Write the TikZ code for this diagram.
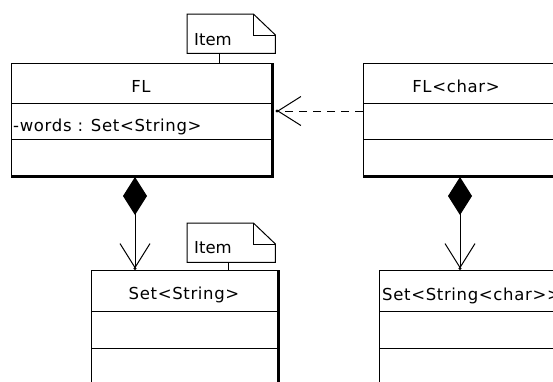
\documentclass[tikz,border=0pt]{standalone}
\usepackage{fontspec}
\setmainfont{DejaVu Sans}[LetterSpace=4,Ligatures=TeXOff]
\newfontfamily\notefont{DejaVu Sans}[Ligatures=TeXOff]
\usetikzlibrary{arrows.meta,calc}

\tikzset{
  classbox/.style={draw, line width=1pt, rectangle, inner sep=0pt, anchor=north west},
  shadowline/.style={line width=2.5pt},
  notebox/.style={rectangle, inner sep=0pt, anchor=north west, minimum width=88pt, minimum height=39pt},
  noteline/.style={line width=1pt, line join=miter},
  label/.style={inner sep=0pt, font=\fontsize{16.5}{18}\selectfont},
  notelabel/.style={inner sep=0pt, anchor=base west, font=\notefont\fontsize{16.5}{18}\selectfont},
  composition/.style={line width=1pt,
    {Diamond[length=38pt,width=24pt,fill=black]}-{Straight Barb[length=24pt,width=30pt,line width=1pt]}},
  dependency/.style={line width=1pt, dash pattern=on 8pt off 6pt,
    -{Straight Barb[length=23pt,width=29pt,line width=1pt]}},
  tipdot/.style={fill=black}
}

\begin{document}
\begin{tikzpicture}[x=1pt,y=-1pt]
\useasboundingbox (0,0) rectangle (553,381);

% ---- class FL ----
\node[classbox, minimum width=260pt, minimum height=112pt] (fl) at (11,63) {};
\draw[line width=1pt] ([yshift=-40pt]fl.north west) -- ([yshift=-40pt]fl.north east);
\draw[line width=1pt] ([yshift=-76pt]fl.north west) -- ([yshift=-76pt]fl.north east);
\draw[shadowline] ([xshift=1pt]fl.north east) -- ([xshift=1pt,yshift=-1pt]fl.south east)
  -- ([yshift=-1pt]fl.south west);
\node[label, anchor=base] (fltitle) at (141,92) {FL};
\node[label, anchor=base west] (flattr) at (13,131) {-words : Set<String>};

% ---- class FL<char> ----
\node[classbox, minimum width=200pt, minimum height=112pt] (flc) at (363,63) {};
\draw[line width=1pt] ([yshift=-40pt]flc.north west) -- ([yshift=-40pt]flc.north east);
\draw[line width=1pt] ([yshift=-76pt]flc.north west) -- ([yshift=-76pt]flc.north east);
\draw[shadowline] ([yshift=-1pt]flc.south west) -- ([yshift=-1pt]flc.south east);
\node[label, anchor=base] (flctitle) at (456,92) {FL<char>};

% ---- class Set<String> ----
\node[classbox, minimum width=186pt, minimum height=130pt] (ss) at (91,270) {};
\draw[line width=1pt] ([yshift=-41pt]ss.north west) -- ([yshift=-41pt]ss.north east);
\draw[line width=1pt] ([yshift=-78pt]ss.north west) -- ([yshift=-78pt]ss.north east);
\draw[shadowline] ([xshift=1pt]ss.north east) -- ([xshift=1pt]ss.south east);
\node[label, anchor=base] (sstitle) at (184,299) {Set<String>};

% ---- class Set<String<char>> ----
\node[classbox, minimum width=200pt, minimum height=130pt] (ssc) at (379,270) {};
\draw[line width=1pt] ([yshift=-41pt]ssc.north west) -- ([yshift=-41pt]ssc.north east);
\draw[line width=1pt] ([yshift=-78pt]ssc.north west) -- ([yshift=-78pt]ssc.north east);
\node[label, anchor=base west] (ssctitle) at (382,300) {Set<String<char>>};

% ---- notes with folded corner ----
\node[notebox] (note1) at (187,14) {};
\node[notebox] (note2) at (187,223) {};
\foreach \n in {note1,note2}{
  \draw[noteline, fill=white] (\n.north west) -- ([xshift=-22pt]\n.north east)
    -- ([yshift=-21pt]\n.north east) -- (\n.south east) -- (\n.south west) -- cycle;
  \draw[noteline] ([xshift=-22pt]\n.north east) |- ([yshift=-21pt]\n.north east);
}
\node[notelabel] (note1text) at (194,45) {Item};
\node[notelabel] (note2text) at (194,253) {Item};

% note anchors
\coordinate (n1a) at ([xshift=32pt]note1.south west);
\coordinate (n2a) at ([xshift=41pt]note2.south west);
\draw[line width=1pt] (n1a) -- (n1a |- fl.north);
\draw[line width=1pt] (n2a) -- (n2a |- ss.north);

% ---- compositions ----
\draw[composition] ([xshift=124pt,yshift=-1pt]fl.south west) -- ([xshift=44pt,yshift=1.5pt]ss.north west);
\fill[tipdot] ([xshift=44pt,yshift=1.5pt]ss.north west) circle (1.6pt);
\draw[composition] ([xshift=97pt,yshift=-1pt]flc.south west) -- ([xshift=81pt,yshift=1.5pt]ssc.north west);
\fill[tipdot] ([xshift=81pt,yshift=1.5pt]ssc.north west) circle (1.6pt);

% ---- dependency ----
\draw[dependency] ([yshift=-48pt]flc.north west) -- ([xshift=5pt,yshift=-48pt]fl.north east);
\fill[tipdot] ([xshift=5pt,yshift=-48pt]fl.north east) circle (1.6pt);
\end{tikzpicture}
\end{document}
